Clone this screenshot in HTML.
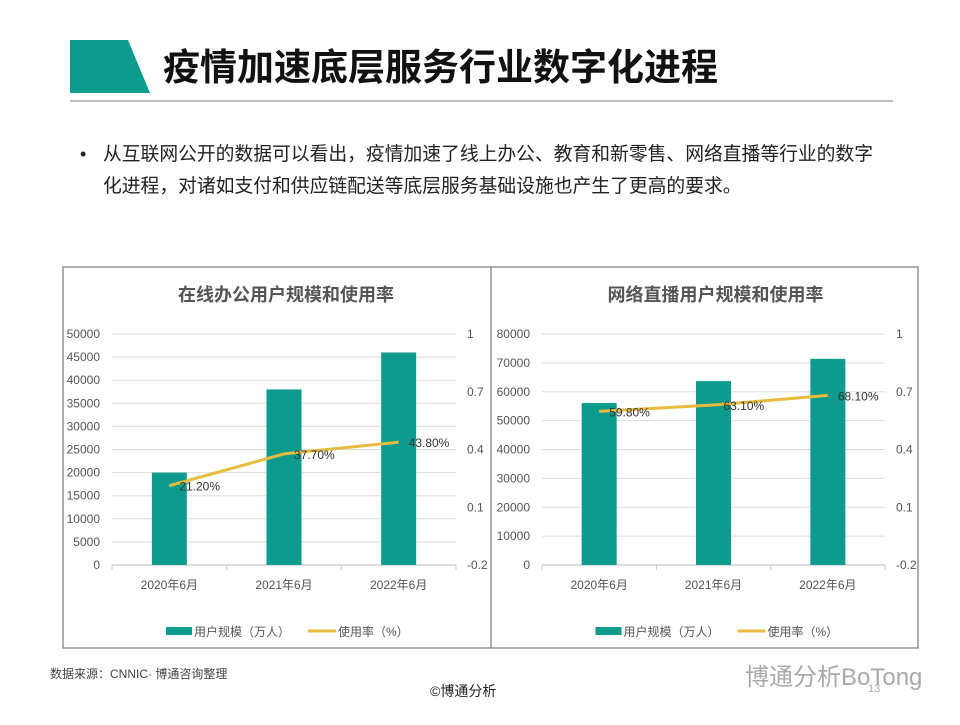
<!DOCTYPE html>
<html><head><meta charset="utf-8"><style>
body{margin:0;width:960px;height:720px;background:#fff;overflow:hidden;font-family:"Liberation Sans","Noto Sans CJK SC",sans-serif;}
svg text{font-family:"Liberation Sans","Noto Sans CJK SC",sans-serif;}
</style></head><body>
<svg id="s" width="960" height="720" viewBox="0 0 960 720">
<polygon points="70,40 128,40 150,93 70,93" fill="#0f9a8e"/>
<text x="163" y="80" font-size="37" font-weight="bold" fill="#111">疫情加速底层服务行业数字化进程</text>
<line x1="70" y1="101" x2="893" y2="101" stroke="#999" stroke-width="1.2"/>
<text x="80" y="160" font-size="18" fill="#222">•</text>
<text x="103" y="160" font-size="18.8" fill="#222">从互联网公开的数据可以看出，疫情加速了线上办公、教育和新零售、网络直播等行业的数字</text>
<text x="103" y="192" font-size="18.8" fill="#222">化进程，对诸如支付和供应链配送等底层服务基础设施也产生了更高的要求。</text>
<rect x="63" y="267" width="855" height="381" fill="none" stroke="#777" stroke-width="1.2"/>
<line x1="491" y1="267" x2="491" y2="648" stroke="#777" stroke-width="1.2"/>
<g id="c1"></g>
<g id="c2"></g>
<text x="50" y="678" font-size="12" fill="#444">数据来源：CNNIC· 博通咨询整理</text>
<text x="430" y="696" font-size="14" fill="#222">©博通分析</text>
<text x="745" y="685" font-size="24" fill="#aaa">博通分析BoTong</text>
<text x="868" y="692" font-size="11" fill="#aaa">13</text>
</svg>
<script>
const categories = ["2020年6月","2021年6月","2022年6月"];
const officeUsers = [20000, 38000, 46000];
const officeRate = [0.212, 0.377, 0.438];
const officeRateLabels = ["21.20%","37.70%","43.80%"];
const liveUsers = [56100, 63700, 71400];
const liveRate = [0.598, 0.631, 0.681];
const liveRateLabels = ["59.80%","63.10%","68.10%"];
const officeTicks = [0,5000,10000,15000,20000,25000,30000,35000,40000,45000,50000];
const liveTicks = [0,10000,20000,30000,40000,50000,60000,70000,80000];
const rateTicks = [-0.2,0.1,0.4,0.7,1];
const NS="http://www.w3.org/2000/svg";
function mk(p,tag,at,txt){const e=document.createElementNS(NS,tag);for(const k in at)e.setAttribute(k,at[k]);if(txt!==undefined)e.textContent=txt;p.appendChild(e);return e;}
function chart(gid,title,x0,x1,leftMax,ticks,users,rate,labels){
  const g=document.getElementById(gid);
  const yTop=334,yBot=565;
  const yL=v=>yBot-(v/leftMax)*(yBot-yTop);
  const yR=v=>yBot-((v+0.2)/1.2)*(yBot-yTop);
  const bw=(x1-x0)/categories.length;
  const xc=i=>x0+bw*(i+0.5);
  const mid=(x0+x1)/2;
  let t=mk(g,'text',{x:mid+2,y:301,'font-size':18,'font-weight':'bold',fill:'#555','text-anchor':'middle'},title);
  
  
  ticks.forEach(v=>{
    let l=mk(g,'line',{x1:x0,x2:x1,y1:yL(v),y2:yL(v),stroke:v===0?'#bbb':'#ddd','stroke-width':1});
    
    
    let tt=mk(g,'text',{x:x0-12,y:yL(v)+4,'font-size':12,fill:'#555','text-anchor':'end'},String(v));
    
    
  });
  rateTicks.forEach(v=>{
    let tt=mk(g,'text',{x:x1+11,y:yR(v)+4,'font-size':12,fill:'#555'},String(v));
    
    
  });
  for(let i=0;i<=categories.length;i++){
    let tk=mk(g,'line',{x1:x0+bw*i,x2:x0+bw*i,y1:yBot,y2:yBot+5,stroke:'#ccc'});
    
    
  }
  categories.forEach((c,i)=>{
    let r=mk(g,'rect',{x:xc(i)-17.5,y:yL(users[i]),width:35,height:yBot-yL(users[i]),fill:'#0f9a8e'});
    
    
    let xl=mk(g,'text',{x:xc(i),y:589,'font-size':12,fill:'#555','text-anchor':'middle'},c);
    
    
  });
  let pl=mk(g,'polyline',{points:rate.map((v,i)=>xc(i)+','+yR(v)).join(' '),fill:'none',stroke:'#e8bc3c','stroke-width':3,'stroke-linejoin':'round'});
  
  
  rate.forEach((v,i)=>{
    let dl=mk(g,'text',{x:xc(i)+10,y:yR(v)+5,'font-size':12,fill:'#333'},labels[i]);
    
    
  });
  const lx=mid-118;
  let lb=mk(g,'rect',{x:lx,y:627,width:26,height:8,fill:'#0f9a8e'});
  
  
  let lt=mk(g,'text',{x:lx+28,y:636,'font-size':12,fill:'#555'},'用户规模（万人）');
  
  
  let ll=mk(g,'line',{x1:lx+142,x2:lx+170,y1:631,y2:631,stroke:'#e8bc3c','stroke-width':3});
  
  
  let lt2=mk(g,'text',{x:lx+172,y:636,'font-size':12,fill:'#555'},'使用率（%）');
  
  
}
chart('c1','在线办公用户规模和使用率',112,456,50000,officeTicks,officeUsers,officeRate,officeRateLabels);
chart('c2','网络直播用户规模和使用率',542,885,80000,liveTicks,liveUsers,liveRate,liveRateLabels);
</script>
</body></html>
